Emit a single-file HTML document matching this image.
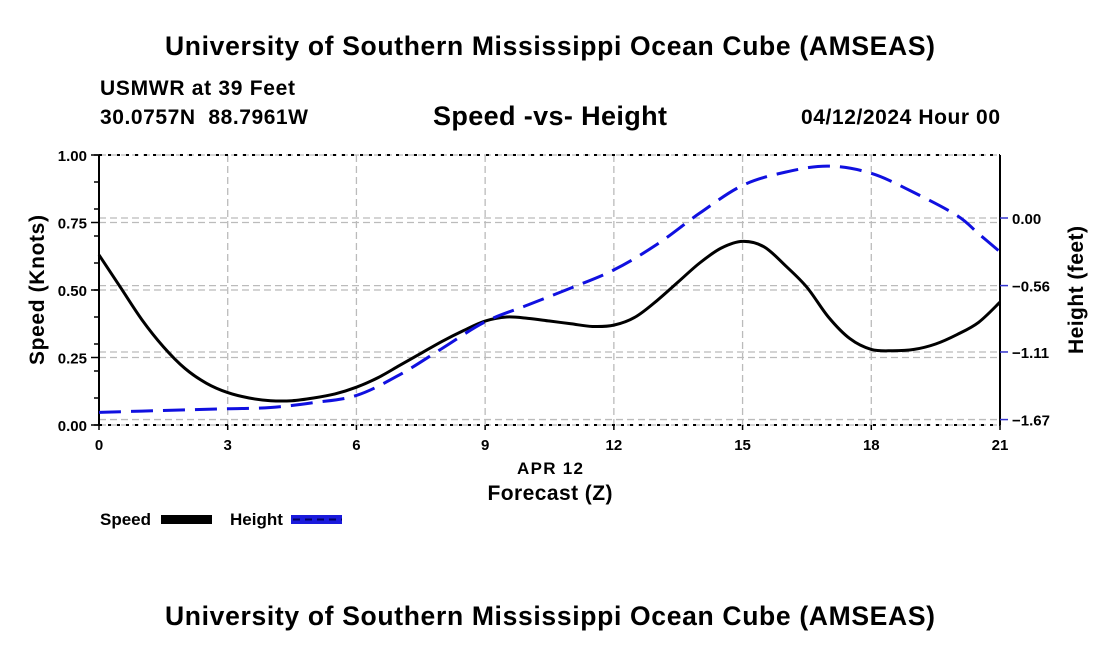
<!DOCTYPE html>
<html><head><meta charset="utf-8"><style>
body{margin:0;background:#fff;width:1100px;height:650px;overflow:hidden}
svg text{font-family:"Liberation Sans",Arial,sans-serif;font-weight:bold;fill:#000}
</style></head><body>
<svg id="chart" width="1100" height="650" viewBox="0 0 1100 650">
<text x="550" y="55" font-size="26.5" text-anchor="middle" textLength="770">University of Southern Mississippi Ocean Cube (AMSEAS)</text>
<text x="100" y="95" font-size="21" textLength="195">USMWR at 39 Feet</text>
<text x="100" y="124" font-size="21" textLength="208" xml:space="preserve">30.0757N  88.7961W</text>
<text x="550" y="125" font-size="27" text-anchor="middle" textLength="234">Speed -vs- Height</text>
<text x="1000" y="124" font-size="21" text-anchor="end" textLength="199">04/12/2024 Hour 00</text>
<g id="grid"></g>
<g id="axes"></g>
<g id="series"></g>
<text transform="translate(44,290) rotate(-90)" font-size="21" text-anchor="middle" textLength="150">Speed (Knots)</text>
<text transform="translate(1083,290) rotate(-90)" font-size="21" text-anchor="middle" textLength="128">Height (feet)</text>
<text x="550" y="474" font-size="17" text-anchor="middle" textLength="66">APR 12</text>
<text x="550" y="500" font-size="21" text-anchor="middle" textLength="125">Forecast (Z)</text>
<g>
<text x="100" y="525" font-size="17">Speed</text>
<rect x="161" y="515" width="51" height="9" fill="#000"/>
<text x="230" y="525" font-size="17">Height</text>
<rect x="291" y="515" width="51" height="9" fill="#1a1adc"/>
<line x1="293" y1="519.5" x2="342" y2="519.5" stroke="#000066" stroke-width="2" stroke-dasharray="7,5"/>
</g>
<text x="550" y="625" font-size="26.5" text-anchor="middle" textLength="770">University of Southern Mississippi Ocean Cube (AMSEAS)</text>
</svg>
<script>
const hours=[0,0.5,1,1.5,2,2.5,3,3.5,4,4.5,5,5.5,6,6.5,7,7.5,8,8.5,9,9.5,10,10.5,11,11.5,12,12.5,13,13.5,14,14.5,15,15.5,16,16.5,17,17.5,18,18.5,19,19.5,20,20.5,21];
const speed=[0.63,0.51,0.39,0.29,0.21,0.155,0.12,0.10,0.09,0.09,0.10,0.115,0.14,0.175,0.22,0.265,0.31,0.35,0.385,0.40,0.395,0.385,0.375,0.365,0.37,0.40,0.46,0.53,0.60,0.655,0.68,0.66,0.59,0.51,0.40,0.32,0.28,0.275,0.28,0.30,0.335,0.38,0.455];
const heightHours=[0,1,2,3,4,5,6,7,8,9,10,11,12,13,14,15,16,17,18,19,20,20.5,21];
const heightFt=[-1.61,-1.60,-1.59,-1.58,-1.57,-1.53,-1.47,-1.30,-1.08,-0.86,-0.72,-0.58,-0.43,-0.22,0.04,0.27,0.38,0.43,0.37,0.21,0.02,-0.13,-0.28];
const xTicks=[0,3,6,9,12,15,18,21];
const leftTicks=[0,0.25,0.5,0.75,1.0];
const rightTicks=[0,-0.56,-1.11,-1.67];
const rightLabels=["0.00","\u22120.56","\u22121.11","\u22121.67"];

const X0=99,X1=1000,YT=155,YB=425;
const xs=h=>X0+(h/21)*(X1-X0);
const ysL=v=>YB-v*(YB-YT);
const ysR=v=>218-v*120.7;
const NS="http://www.w3.org/2000/svg";
function mk(parent,tag,attrs){const e=document.createElementNS(NS,tag);for(const k in attrs)e.setAttribute(k,attrs[k]);document.getElementById(parent).appendChild(e);return e;}
function path(px,py){let d="M"+px[0]+","+py[0];for(let i=0;i<px.length-1;i++){const p0=i?i-1:i,p3=i+2<px.length?i+2:i+1;
const c1x=px[i]+(px[i+1]-px[p0])/6,c1y=py[i]+(py[i+1]-py[p0])/6,c2x=px[i+1]-(px[p3]-px[i])/6,c2y=py[i+1]-(py[p3]-py[i])/6;
d+=` C${c1x},${c1y} ${c2x},${c2y} ${px[i+1]},${py[i+1]}`;}return d;}

xTicks.forEach(t=>{if(t>0&&t<21){const l=mk("grid","line",{x1:xs(t),x2:xs(t),y1:YT,y2:YB,stroke:"#bbb","stroke-width":1.3,"stroke-dasharray":"7,4"});

}});
leftTicks.forEach(t=>{const l=mk("grid","line",{x1:X0,x2:X1,y1:ysL(t),y2:ysL(t),stroke:"#bbb","stroke-width":1.3,"stroke-dasharray":"7,4"});

});
rightTicks.forEach(t=>{const l=mk("grid","line",{x1:X0,x2:X1,y1:ysR(t),y2:ysR(t),stroke:"#bbb","stroke-width":1.3,"stroke-dasharray":"7,4"});

});

[[X0,YT,X0,YB],[X1,YT,X1,YB]].forEach(a=>{const l=mk("axes","line",{x1:a[0],y1:a[1],x2:a[2],y2:a[3],stroke:"#000","stroke-width":2});

});
[YT,YB].forEach(y=>{const l=mk("axes","line",{x1:X0,x2:X1,y1:y,y2:y,stroke:"#000","stroke-width":2,"stroke-dasharray":"3,6"});

});
xTicks.forEach(t=>{mk("axes","line",{x1:xs(t),x2:xs(t),y1:YB,y2:YB+5,stroke:"#000","stroke-width":1.5});
const tx=mk("axes","text",{x:xs(t),y:YB+25,"font-size":15,"text-anchor":"middle"});tx.textContent=t;

});
for(let v=0;v<=1.0001;v+=0.1){mk("axes","line",{x1:X0-5,x2:X0,y1:ysL(v),y2:ysL(v),stroke:"#000","stroke-width":1.5});}
leftTicks.forEach(t=>{mk("axes","line",{x1:X0-8,x2:X0,y1:ysL(t),y2:ysL(t),stroke:"#000","stroke-width":1.5});
const tx=mk("axes","text",{x:X0-12,y:ysL(t)+6,"font-size":15,"text-anchor":"end"});tx.textContent=t.toFixed(2);

});
rightTicks.forEach((t,i)=>{mk("axes","line",{x1:X1,x2:X1+8,y1:ysR(t),y2:ysR(t),stroke:"#3333cc","stroke-width":1.5});
const tx=mk("axes","text",{x:X1+12,y:ysR(t)+6,"font-size":15});tx.textContent=rightLabels[i];

});

const sp=mk("series","path",{d:path(hours.map(xs),speed.map(ysL)),fill:"none",stroke:"#000","stroke-width":3});


const hp=mk("series","path",{d:path(heightHours.map(xs),heightFt.map(ysR)),fill:"none",stroke:"#1010e0","stroke-width":3,"stroke-dasharray":"22,10"});


</script>
</body></html>
